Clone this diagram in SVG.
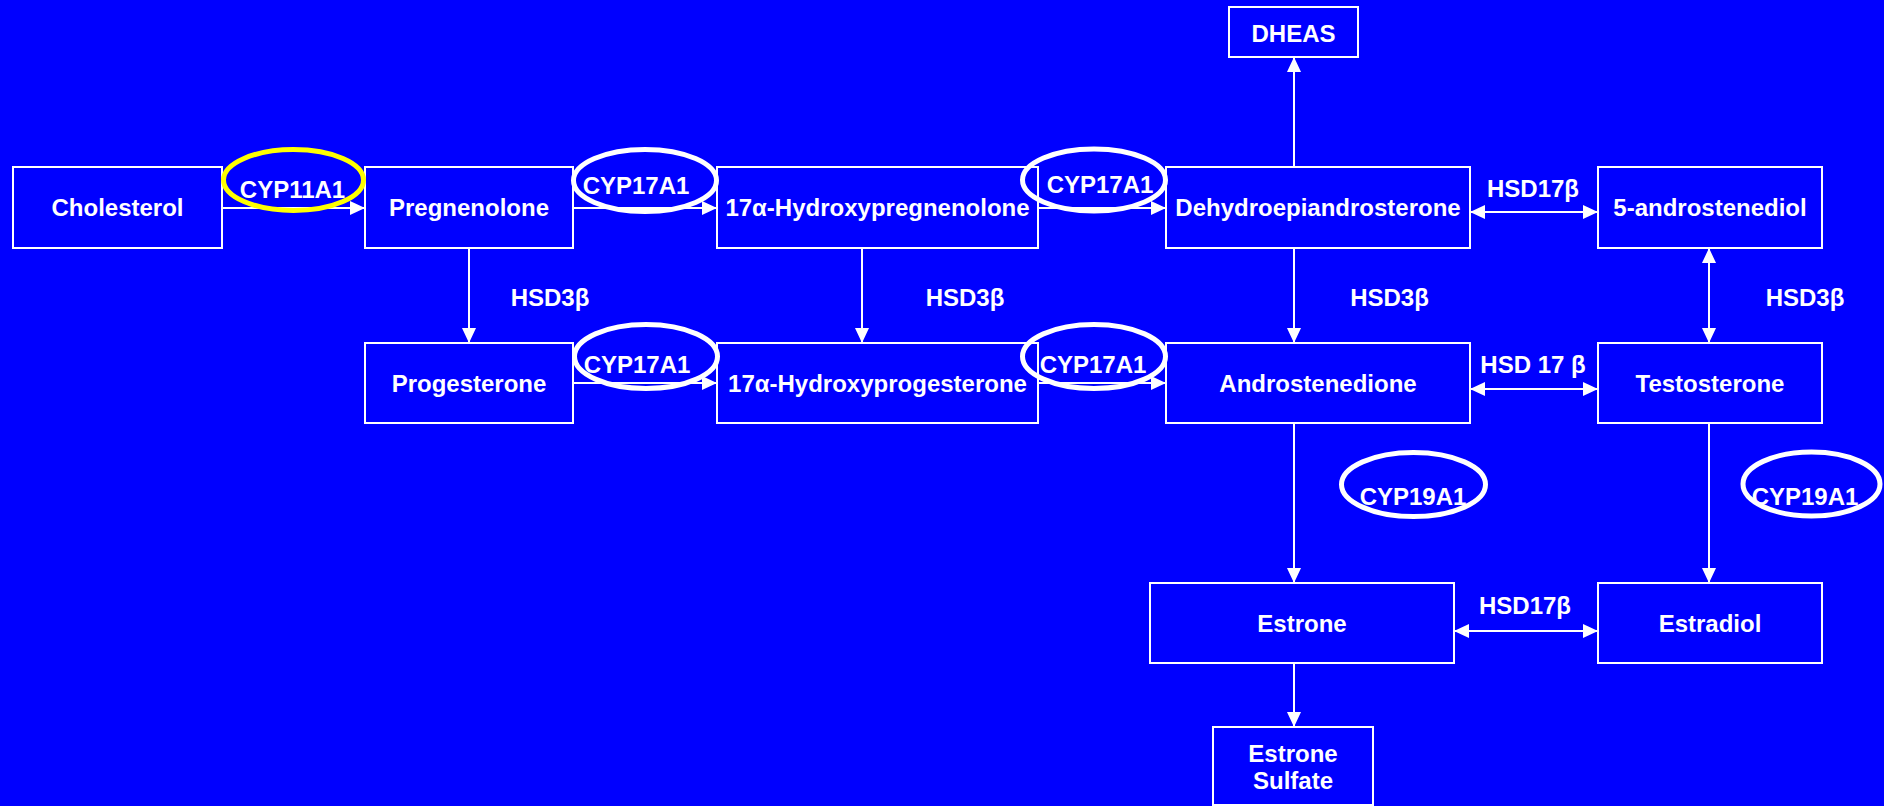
<svg xmlns="http://www.w3.org/2000/svg" width="1884" height="806" viewBox="0 0 1884 806">
<defs>
<style>
.box{fill:#0000FF;stroke:#FFFFFF;stroke-width:2}
.t{font-family:"Liberation Sans",Arial,sans-serif;font-weight:bold;font-size:24px;fill:#FFFFFF;text-anchor:middle}
.c{stroke:#FFFFFF;stroke-width:2;fill:none}
.ell{fill:none;stroke:#FFFFFF;stroke-width:5}
.yell{fill:none;stroke:#FFFF00;stroke-width:5}
</style>
<marker id="ah" markerUnits="userSpaceOnUse" markerWidth="15" markerHeight="14" refX="15" refY="7" orient="auto-start-reverse">
<path d="M0,0 L15,7 L0,14 z" fill="#FFFFFF"/>
</marker>
</defs>
<rect x="0" y="0" width="1884" height="806" fill="#0000FF"/>

<g id="connectors">
<line class="c" x1="222" y1="208" x2="365" y2="208" marker-end="url(#ah)"/>
<line class="c" x1="573" y1="208" x2="717" y2="208" marker-end="url(#ah)"/>
<line class="c" x1="1038" y1="208" x2="1166" y2="208" marker-end="url(#ah)"/>
<line class="c" x1="1294" y1="167" x2="1294" y2="57" marker-end="url(#ah)"/>
<line class="c" x1="1470" y1="212" x2="1598" y2="212" marker-start="url(#ah)" marker-end="url(#ah)"/>
<line class="c" x1="469" y1="248" x2="469" y2="343" marker-end="url(#ah)"/>
<line class="c" x1="862" y1="248" x2="862" y2="343" marker-end="url(#ah)"/>
<line class="c" x1="1294" y1="248" x2="1294" y2="343" marker-end="url(#ah)"/>
<line class="c" x1="1709" y1="248" x2="1709" y2="343" marker-start="url(#ah)" marker-end="url(#ah)"/>
<line class="c" x1="573" y1="383" x2="717" y2="383" marker-end="url(#ah)"/>
<line class="c" x1="1038" y1="383" x2="1166" y2="383" marker-end="url(#ah)"/>
<line class="c" x1="1470" y1="389" x2="1598" y2="389" marker-start="url(#ah)" marker-end="url(#ah)"/>
<line class="c" x1="1294" y1="423" x2="1294" y2="583" marker-end="url(#ah)"/>
<line class="c" x1="1709" y1="423" x2="1709" y2="583" marker-end="url(#ah)"/>
<line class="c" x1="1454" y1="631" x2="1598" y2="631" marker-start="url(#ah)" marker-end="url(#ah)"/>
<line class="c" x1="1294" y1="663" x2="1294" y2="727" marker-end="url(#ah)"/>
</g>

<g id="cholesterol"><rect class="box" x="13" y="167" width="209" height="81"/><text class="t" x="117.5" y="216">Cholesterol</text></g>
<g id="pregnenolone"><rect class="box" x="365" y="167" width="208" height="81"/><text class="t" x="469" y="216">Pregnenolone</text></g>
<g id="hydroxypregnenolone"><rect class="box" x="717" y="167" width="321" height="81"/><text class="t" x="877.5" y="216">17α-Hydroxypregnenolone</text></g>
<g id="dhea"><rect class="box" x="1166" y="167" width="304" height="81"/><text class="t" x="1318" y="216">Dehydroepiandrosterone</text></g>
<g id="androstenediol"><rect class="box" x="1598" y="167" width="224" height="81"/><text class="t" x="1710" y="216">5-androstenediol</text></g>
<g id="dheas"><rect class="box" x="1229" y="7" width="129" height="50"/><text class="t" x="1293.5" y="42">DHEAS</text></g>
<g id="progesterone"><rect class="box" x="365" y="343" width="208" height="80"/><text class="t" x="469" y="392">Progesterone</text></g>
<g id="hydroxyprogesterone"><rect class="box" x="717" y="343" width="321" height="80"/><text class="t" x="877.5" y="392">17α-Hydroxyprogesterone</text></g>
<g id="androstenedione"><rect class="box" x="1166" y="343" width="304" height="80"/><text class="t" x="1318" y="392">Androstenedione</text></g>
<g id="testosterone"><rect class="box" x="1598" y="343" width="224" height="80"/><text class="t" x="1710" y="392">Testosterone</text></g>
<g id="estrone"><rect class="box" x="1150" y="583" width="304" height="80"/><text class="t" x="1302" y="632">Estrone</text></g>
<g id="estradiol"><rect class="box" x="1598" y="583" width="224" height="80"/><text class="t" x="1710" y="632">Estradiol</text></g>
<g id="estrone-sulfate"><rect class="box" x="1213" y="727" width="160" height="78"/><text class="t" x="1293" y="762">Estrone</text><text class="t" x="1293" y="789">Sulfate</text></g>

<g id="enzyme-labels">
<text class="t" x="1533" y="197">HSD17β</text>
<text class="t" x="550" y="306">HSD3β</text>
<text class="t" x="965" y="306">HSD3β</text>
<text class="t" x="1389.5" y="306">HSD3β</text>
<text class="t" x="1805" y="306">HSD3β</text>
<text class="t" x="1533" y="373">HSD 17 β</text>
<text class="t" x="1525" y="614">HSD17β</text>
</g>

<g id="cyp11a1"><ellipse class="yell" cx="293.5" cy="180" rx="70" ry="30.5"/><text class="t" x="292.5" y="198">CYP11A1</text></g>
<g id="cyp17a1-1"><ellipse class="ell" cx="645" cy="180.5" rx="71.5" ry="31"/><text class="t" x="636" y="194">CYP17A1</text></g>
<g id="cyp17a1-2"><ellipse class="ell" cx="1094" cy="180" rx="71.5" ry="31"/><text class="t" x="1100" y="193">CYP17A1</text></g>
<g id="cyp17a1-3"><ellipse class="ell" cx="646" cy="356.5" rx="71.5" ry="32"/><text class="t" x="637" y="373">CYP17A1</text></g>
<g id="cyp17a1-4"><ellipse class="ell" cx="1094" cy="356.5" rx="71.5" ry="32"/><text class="t" x="1093" y="373">CYP17A1</text></g>
<g id="cyp19a1-1"><ellipse class="ell" cx="1413.5" cy="484.5" rx="72" ry="32"/><text class="t" x="1413" y="505">CYP19A1</text></g>
<g id="cyp19a1-2"><ellipse class="ell" cx="1811.5" cy="484" rx="68.5" ry="32"/><text class="t" x="1805" y="505">CYP19A1</text></g>
</svg>
